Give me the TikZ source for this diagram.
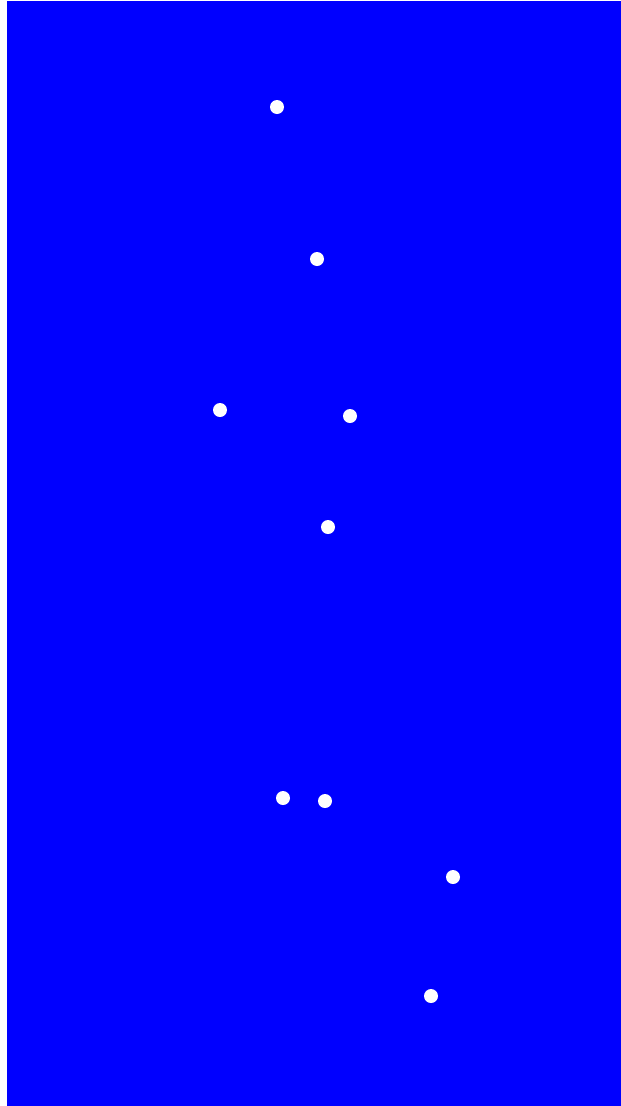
\documentclass[tikz,border=0pt]{standalone}
\usepackage{xcolor}
\usepackage{tikz}
\definecolor{skyblue}{RGB}{0,0,255}
\tikzset{
  dot/.style={circle, fill=white, draw=none, inner sep=0pt, minimum size=0.28cm}
}

\begin{document}
\begin{tikzpicture}[x=0.02cm, y=-0.02cm]
    \useasboundingbox (0,0) rectangle (621,1106);
    \fill[white] (0,0) rectangle (621,1106);
    \fill[skyblue] (7,1) rectangle (621,1106);
    \node[dot] (s1) at (277,107) {};
    \node[dot] (s2) at (317,259) {};
    \node[dot] (s3) at (220,410) {};
    \node[dot] (s4) at (350,416) {};
    \node[dot] (s5) at (328,527) {};
    \node[dot] (s6) at (283,798) {};
    \node[dot] (s7) at (325,801) {};
    \node[dot] (s8) at (453,877) {};
    \node[dot] (s9) at (431,996) {};
  \end{tikzpicture}
\end{document}
